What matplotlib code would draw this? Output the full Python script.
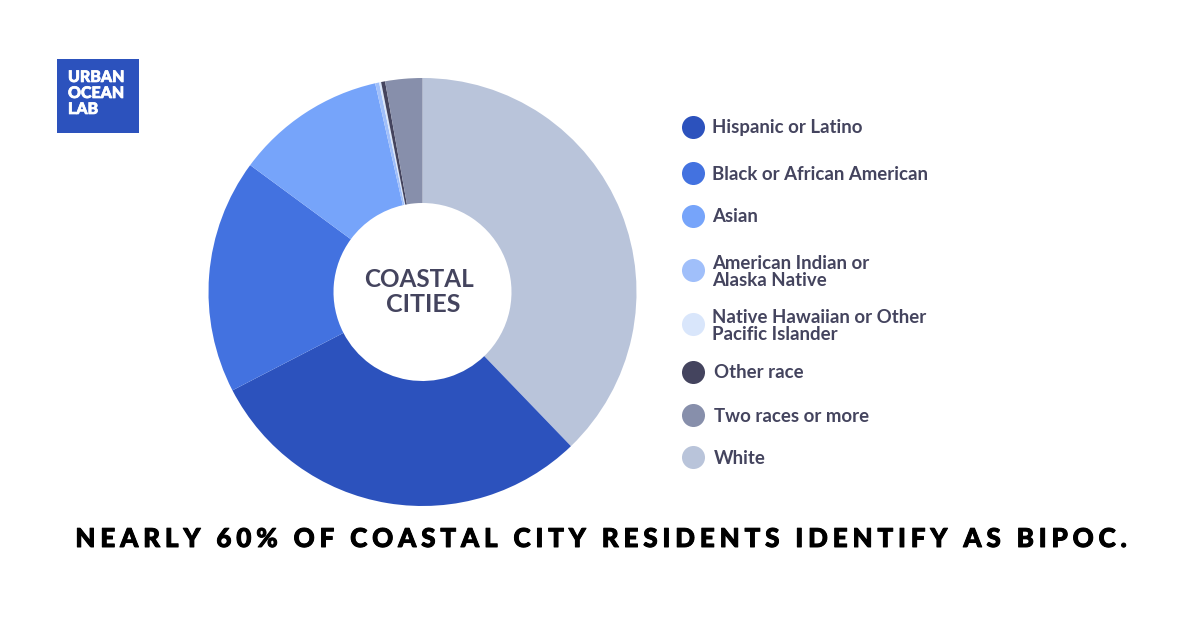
#!/usr/bin/env python3
import matplotlib
matplotlib.use('Agg')
import matplotlib.pyplot as plt
import matplotlib.patheffects as pe
from matplotlib.patches import Rectangle

# pie order, clockwise from 12 o'clock
slice_names = ['White', 'Hispanic or Latino', 'Black or African American', 'Asian',
               'American Indian or\nAlaska Native', 'Native Hawaiian or Other\nPacific Islander',
               'Other race', 'Two races or more']
slice_values = [37.8, 29.6, 17.7, 11.35, 0.3, 0.15, 0.3, 2.8]
slice_colors = ['#b9c4da', '#2c52bd', '#4372e0', '#76a4fa', '#a0bffa', '#d9e6fb', '#44445e', '#878fab']

# legend order
legend_names = ['Hispanic or Latino', 'Black or African American', 'Asian',
                'American Indian or\nAlaska Native', 'Native Hawaiian or Other\nPacific Islander',
                'Other race', 'Two races or more', 'White']
legend_y = [127, 173, 216, 270, 324, 372, 415, 457]
legend_text_y = [127, 175, 217, 272, 326, 373, 417, 459]
legend_text_x = [712, 712, 712, 712, 712, 714, 714, 714]

title = 'NEARLY 60% OF COASTAL CITY RESIDENTS IDENTIFY AS BIPOC.'
TEXT_COL = '#44445e'
W, H = 1200, 633

plt.rcParams['font.family'] = ['Lato', 'DejaVu Sans']

fig = plt.figure(figsize=(W / 100, H / 100), dpi=100, facecolor='white')

# overlay in pixel coordinates for logo, legend and captions
ov = fig.add_axes([0, 0, 1, 1])
ov.set_xlim(0, W)
ov.set_ylim(H, 0)
ov.axis('off')

# donut, centre (422.5, 292), radius 214
cx, cy, r = 422.5, 292, 214
ax = fig.add_axes([(cx - r) / W, 1 - (cy + r) / H, 2 * r / W, 2 * r / H])
ax.pie(slice_values, colors=slice_colors, startangle=90, counterclock=False, radius=1,
       wedgeprops={'width': 1 - 89 / 214, 'linewidth': 0})
ax.set_xlim(-1, 1)
ax.set_ylim(-1, 1)
ax.text(-0.016, 0.057, 'COASTAL', ha='center', va='center', fontsize=17.5, fontweight='bold', color=TEXT_COL)
ax.text(0.002, -0.06, 'CITIES', ha='center', va='center', fontsize=18, fontweight='bold', color=TEXT_COL)

# logo
ov.add_patch(Rectangle((57, 59), 82, 74, color='#2c52bd', lw=0))
ov.text(68, 93, 'URBAN\nOCEAN\nLAB', color='white', fontsize=11.5, fontweight='black',
        ha='left', va='center', linespacing=1.0,
        path_effects=[pe.withStroke(linewidth=0.5, foreground='white')])

# legend
name_to_col = dict(zip(slice_names, slice_colors))
for name, y, ty, tx in zip(legend_names, legend_y, legend_text_y, legend_text_x):
    ov.scatter([692.5], [y], s=275, color=name_to_col[name], linewidths=0)
    ov.text(tx, ty, name, color=TEXT_COL, fontsize=13.4, fontweight='bold',
            ha='left', va='center', linespacing=0.95)

# bottom caption, letter spaced with thin + hair spaces
ov.text(601.5, 539, '\u2009\u200a'.join(title), color='black', fontsize=18.7, fontweight='black',
        ha='center', va='center',
        path_effects=[pe.withStroke(linewidth=0.7, foreground='black')])

fig.savefig('out.png', dpi=100)
